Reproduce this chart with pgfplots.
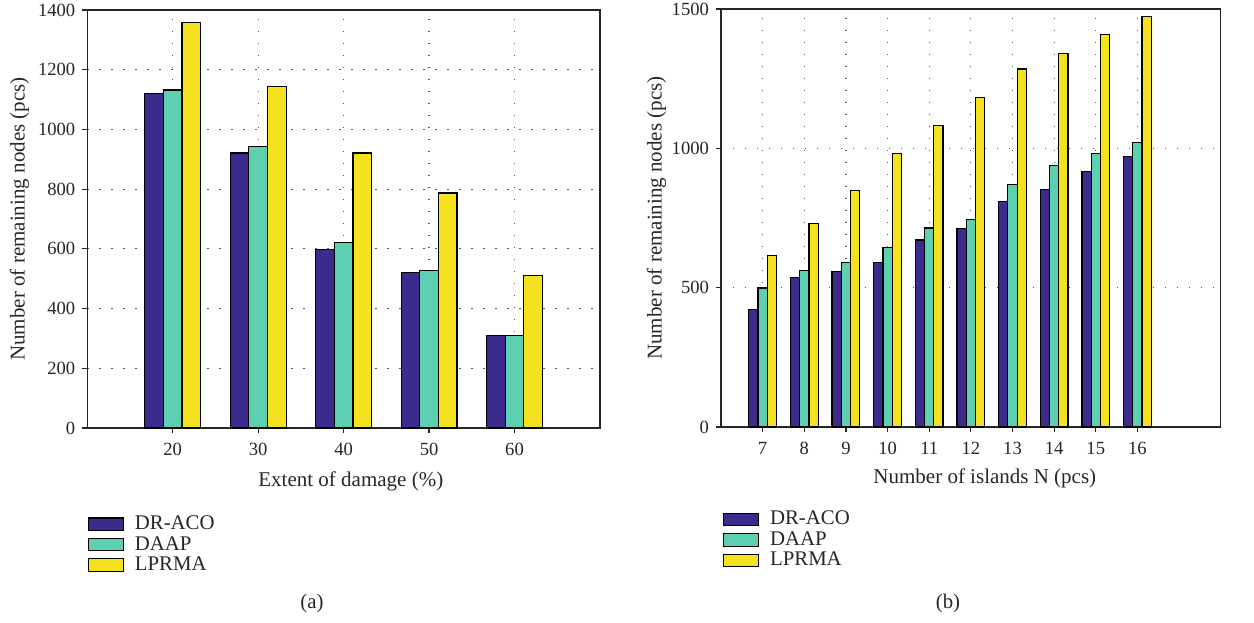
\documentclass[border=0pt]{standalone}
\usepackage{fontspec}
\setmainfont{Liberation Serif}
\usepackage{pgfplots}
\pgfplotsset{compat=1.18}
\definecolor{cDR}{HTML}{3C2A8C}
\definecolor{cDA}{HTML}{5CD0B1}
\definecolor{cLP}{HTML}{F3E21D}
\pgfplotsset{
  mybars/.style={
    scale only axis,
    axis line style={line width=0.65pt, black!85},
    tick style={line width=0.6pt, black!85},
    major tick length=2.5pt,
    tick align=outside,
    xtick pos=lower, ytick pos=left,
    xmajorgrids, ymajorgrids,
    major grid style={dash pattern=on 0.7pt off 5.3pt, line width=0.6pt, black!65},
    ticklabel style={font=\fontsize{9.3}{11}\selectfont, text=black!85},
    xticklabel style={yshift=-1.5pt},
    /pgf/number format/assume math mode=true,
    /pgf/number format/1000 sep={},
    label style={font=\fontsize{10.5}{12}\selectfont, text=black!85},
    ybar,
    legend image code/.code={\draw[#1] (0pt,-3.1pt) rectangle (17.5pt,3.1pt);},
    legend cell align=left,
    legend style={draw=none, fill=none, inner sep=0pt, anchor=north west,
      font=\fontsize{10.4}{10.5}\selectfont, text=black!85, row sep=0pt, column sep=4.5pt,
      nodes={inner sep=1pt, text height=6.8pt, text depth=1.4pt}},
  },
  barDR/.style={fill=cDR, draw=black, line width=0.6pt},
  barDA/.style={fill=cDA, draw=black, line width=0.6pt},
  barLP/.style={fill=cLP, draw=black, line width=0.6pt},
}
\begin{document}
\begin{tikzpicture}
\path[use as bounding box] (0,0) rectangle (627pt,311pt);
% ---------- (a)
\begin{axis}[mybars,
  at={(43.65pt,97pt)}, anchor=south west,
  width=256.35pt, height=209pt,
  xmin=10, xmax=70, ymin=0, ymax=1400,
  xtick={20,30,40,50,60}, ytick={0,200,...,1400},
  bar width=2.18,
  xlabel={Extent of damage (\%)},
  ylabel={Number of remaining nodes (pcs)},
  xlabel style={at={(axis description cs:0.514,-0.128)}, anchor=center},
  ylabel style={at={(axis description cs:-0.132,0.5)}, anchor=center},
  legend style={at={(axis description cs:0,-0.205)}},
]
\addplot[barDR, bar shift=-2.18] coordinates {(20,1120) (30,921) (40,598) (50,521) (60,309)};
\addplot[barDA, bar shift=0] coordinates {(20,1132) (30,943) (40,621) (50,527) (60,311)};
\addplot[barLP, bar shift=2.18] coordinates {(20,1357) (30,1143) (40,921) (50,787) (60,511)};
\legend{DR-ACO, DAAP, LPRMA}
\end{axis}
% ---------- (b)
\begin{axis}[mybars,
  at={(360.5pt,97.5pt)}, anchor=south west,
  width=249.85pt, height=209pt,
  xmin=6, xmax=18, ymin=0, ymax=1500,
  xtick={7,...,16}, ytick={0,500,1000,1500},
  bar width=0.222,
  xlabel={Number of islands N (pcs)},
  ylabel={Number of remaining nodes (pcs)},
  xlabel style={at={(axis description cs:0.528,-0.124)}, anchor=center},
  ylabel style={at={(axis description cs:-0.129,0.5)}, anchor=center},
  legend style={at={(axis description cs:0.003,-0.196)}},
]
\addplot[barDR, bar shift=-0.222] coordinates {(7,423) (8,536) (9,559) (10,589) (11,671) (12,712) (13,809) (14,853) (15,917) (16,971)};
\addplot[barDA, bar shift=0] coordinates {(7,499) (8,561) (9,589) (10,644) (11,714) (12,745) (13,871) (14,937) (15,981) (16,1022)};
\addplot[barLP, bar shift=0.222] coordinates {(7,615) (8,730) (9,848) (10,981) (11,1083) (12,1183) (13,1285) (14,1339) (15,1409) (16,1474)};
\legend{DR-ACO, DAAP, LPRMA}
\end{axis}
\node[font=\fontsize{10.4}{12}\selectfont, text=black!85] at (156pt,9.5pt) {(a)};
\node[font=\fontsize{10.4}{12}\selectfont, text=black!85] at (474pt,9.5pt) {(b)};
\end{tikzpicture}
\end{document}
